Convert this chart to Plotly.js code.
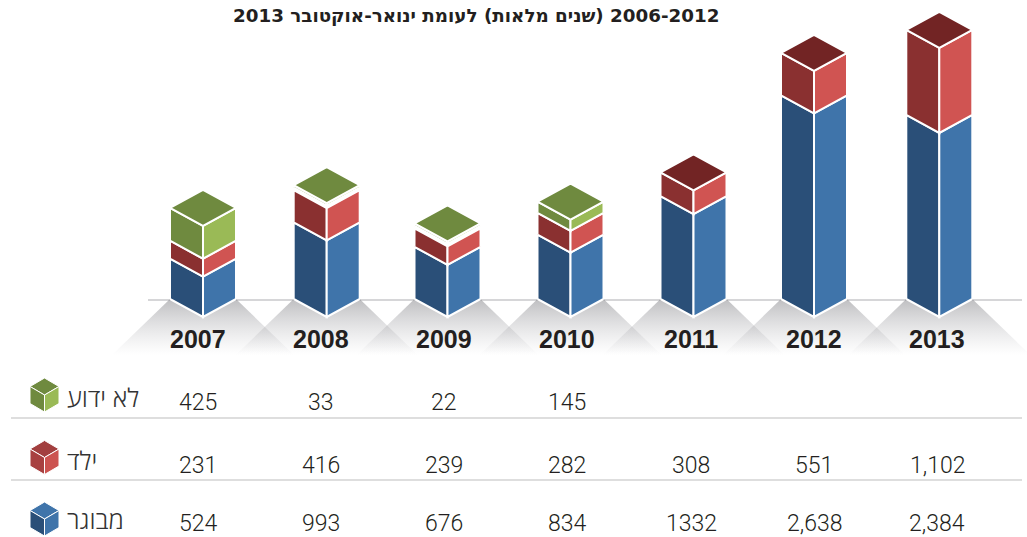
<!DOCTYPE html>
<html>
<head>
<meta charset="utf-8">
<script src="https://cdn.plot.ly/plotly-3.0.1.min.js"></script>
<style>html,body{margin:0;padding:0;background:#fff;overflow:hidden}#chart{width:1027px;height:537px}</style>
</head>
<body>
<div id="chart"></div>
<script>
const years = [2007, 2008, 2009, 2010, 2011, 2012, 2013];
const adult = [524, 993, 676, 834, 1332, 2638, 2384];
const child = [231, 416, 239, 282, 308, 551, 1102];
const unknown = [425, 33, 22, 145, null, null, null];
const adultText = ['524', '993', '676', '834', '1332', '2,638', '2,384'];
const childText = ['231', '416', '239', '282', '308', '551', '1,102'];
const unknownText = ['425', '33', '22', '145', '', '', ''];
const seriesNames = ['לא ידוע', 'ילד', 'מבוגר'];
const titleText = '\u202B2006-2012 (שנים מלאות) לעומת ינואר-אוקטובר 2013\u202C';

// layout constants (pixels of the 1027x537 page)
const W = 1027, H = 537;
const barCentre = [203, 326.7, 447.5, 570.5, 693.5, 814, 939.3];
const colCentre = [198, 321, 444, 567, 691, 814, 937];
const baseY = 317, pxPerUnit = 0.0772, halfW = 33, skewPx = 18;
const skew = skewPx / pxPerUnit;
const thinSlab = 65, thinGap = 32; // very small segments are drawn as a sliver with a gap, as in the source graphic
const rowY = [402, 465, 523], ruleY = [418, 480];
const labelY = [397, 460, 519];
const iconY = [395, 457.5, 519];
const C = {
  blueD: '#2a4f78', blueL: '#3f74aa',
  redD: '#8a3030', redL: '#d05452', redT: '#722424',
  greenD: '#6f8a3f', greenL: '#9aba56'
};
const FONT_LIGHT = 'Roboto, Lato, "Open Sans", sans-serif';
const FONT_HE = '"Open Sans", "Liberation Sans", "DejaVu Sans", sans-serif';

function addPoly(arr, pts) {
  pts.forEach(p => { arr.x.push(p[0]); arr.y.push(p[1]); });
  arr.x.push(pts[0][0], null); arr.y.push(pts[0][1], null);
}
function face(color, yaxis, lw) {
  return {poly: {x: [], y: []}, color, yaxis, lw};
}
function toTrace(f, name) {
  return {
    type: 'scatter', mode: 'lines', x: f.poly.x, y: f.poly.y, name,
    xaxis: 'x', yaxis: f.yaxis, fill: 'toself', fillcolor: f.color,
    line: {color: '#ffffff', width: f.lw, shape: 'linear'},
    connectgaps: false, hoverinfo: 'skip', showlegend: false
  };
}

const traces = [];

// ground shadows, fading downward, one trace each so that overlaps darken
barCentre.forEach((c, i) => {
  traces.push({
    type: 'scatter', mode: 'lines', yaxis: 'y', xaxis: 'x',
    x: [c - halfW, c + halfW, c + halfW + 58, c - halfW - 58, c - halfW],
    y: [299, 299, 355, 355, 299],
    fill: 'toself', line: {width: 0, color: 'rgba(0,0,0,0)'},
    fillgradient: {type: 'vertical', start: 299, stop: 355,
      colorscale: [[0, 'rgba(120,120,125,0.48)'], [1, 'rgba(170,170,175,0)']]},
    hoverinfo: 'skip', showlegend: false, name: 'shadow ' + years[i]
  });
});

// bars: left and right faces from the stacked values, drawn on the value axis
const series = [
  {name: 'adult', v: adult, l: C.blueD, r: C.blueL},
  {name: 'child', v: child, l: C.redD, r: C.redL},
  {name: 'unknown', v: unknown, l: C.greenD, r: C.greenL}
];
const base = years.map(() => 0);
series.forEach(s => {
  const L = face(s.l, 'y2', 2), R = face(s.r, 'y2', 2);
  s.v.forEach((val, i) => {
    if (val === null) return;
    const c = barCentre[i];
    const thin = val < thinSlab;
    const y0 = base[i] + (thin ? thinGap : 0);
    const y1 = base[i] + (thin ? thinSlab : val);
    addPoly(L.poly, [[c - halfW, y0 + skew], [c, y0], [c, y1], [c - halfW, y1 + skew]]);
    addPoly(R.poly, [[c + halfW, y0 + skew], [c, y0], [c, y1], [c + halfW, y1 + skew]]);
    base[i] = y1;
  });
  traces.push(toTrace(L, s.name + ' left'), toTrace(R, s.name + ' right'));
});
const topGreen = face(C.greenD, 'y2', 2), topRed = face(C.redT, 'y2', 2);
years.forEach((_, i) => {
  const c = barCentre[i], t = base[i];
  addPoly((unknown[i] === null ? topRed : topGreen).poly,
    [[c, t], [c - halfW, t + skew], [c, t + 2 * skew], [c + halfW, t + skew]]);
});
traces.push(toTrace(topGreen, 'top unknown'), toTrace(topRed, 'top child'));

// legend cubes (pixel axis)
const iconCols = [
  {t: '#6f8a3f', l: '#6f8a3f', r: '#9aba56'},
  {t: '#a23f3f', l: '#a84040', r: '#cc5350'},
  {t: '#3f74aa', l: '#2a4f78', r: '#3f74aa'}
];
iconY.forEach((cy, i) => {
  const cx = 44.5, hw = 14.5, sk = 8.5, hh = 8.5;
  const T = face(iconCols[i].t, 'y', 1), Lf = face(iconCols[i].l, 'y', 1), Rf = face(iconCols[i].r, 'y', 1);
  addPoly(T.poly, [[cx, cy - hh - sk], [cx + hw, cy - hh], [cx, cy - hh + sk], [cx - hw, cy - hh]]);
  addPoly(Lf.poly, [[cx - hw, cy - hh], [cx, cy - hh + sk], [cx, cy + hh + sk], [cx - hw, cy + hh]]);
  addPoly(Rf.poly, [[cx + hw, cy - hh], [cx, cy - hh + sk], [cx, cy + hh + sk], [cx + hw, cy + hh]]);
  traces.push(toTrace(T, 'icon top'), toTrace(Lf, 'icon left'), toTrace(Rf, 'icon right'));
});

const annotations = [];
function label(text, x, y, font, xanchor) {
  annotations.push({text, x, y, xref: 'x', yref: 'y', showarrow: false,
    xanchor: xanchor || 'center', yanchor: 'middle', font, align: 'center',
    borderpad: 0, borderwidth: 0});
}
label(titleText, 475.5, 15.5, {family: '"DejaVu Sans", sans-serif', size: 18.3, weight: 700, color: '#231f20'});
years.forEach((y, i) => {
  label(String(y), colCentre[i], 338.5, {family: '"Liberation Sans", Arial, sans-serif', size: 25, weight: 700, color: '#231f20'});
});
[unknownText, childText, adultText].forEach((row, r) => {
  row.forEach((t, i) => {
    if (t) label(t, colCentre[i], rowY[r], {family: FONT_LIGHT, size: 23, weight: 300, color: '#231f20'});
  });
});
seriesNames.forEach((n, r) => {
  label(n, 67, labelY[r], {family: FONT_HE, size: 25.5, weight: 300, color: '#333333'}, 'left');
});

const shapes = [
  {type: 'line', xref: 'x', yref: 'y', x0: 148, x1: 1022, y0: 300, y1: 300, layer: 'below', line: {color: '#aeaeb2', width: 1.2}}
].concat(ruleY.map(y => ({type: 'line', xref: 'x', yref: 'y', x0: 11, x1: 1022, y0: y, y1: y, layer: 'below', line: {color: '#bdbdbd', width: 1.2}})));

const layout = {
  width: W, height: H, margin: {l: 0, r: 0, t: 0, b: 0, pad: 0},
  paper_bgcolor: '#ffffff', plot_bgcolor: 'rgba(0,0,0,0)', showlegend: false,
  xaxis: {range: [0, W], visible: false, fixedrange: true},
  yaxis: {range: [H, 0], visible: false, fixedrange: true},
  yaxis2: {range: [(baseY - H) / pxPerUnit, baseY / pxPerUnit], overlaying: 'y', visible: false, fixedrange: true},
  annotations, shapes
};
Plotly.newPlot('chart', traces, layout, {displayModeBar: false, staticPlot: true});
</script>
</body>
</html>
